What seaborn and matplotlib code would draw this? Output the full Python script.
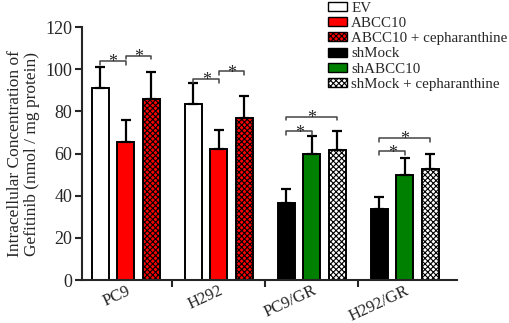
import numpy as np
import pandas as pd
import matplotlib
matplotlib.use("Agg")
import matplotlib.pyplot as plt
import matplotlib.transforms as mtransforms
from matplotlib.patches import Patch
import seaborn as sns

# data
groups = ["PC9", "H292", "PC9/GR", "H292/GR"]
means = [[91, 65.5, 86],
         [83.5, 62, 77],
         [36.5, 60, 61.5],
         [33.5, 50, 52.5]]
errs = [[10, 10.5, 12.5],
        [10, 9, 10.5],
        [6.5, 8.5, 9],
        [6, 8, 7.5]]
# significance brackets: (group, bar a, bar b, height)
brackets = [(0, 0, 1, 104), (0, 1, 2, 106.5),
            (1, 0, 1, 95.5), (1, 1, 2, 99),
            (2, 0, 1, 70.5), (2, 0, 2, 77.5),
            (3, 0, 1, 61), (3, 0, 2, 67.5)]
legend_labels = ["EV", "ABCC10", "ABCC10 + cepharanthine",
                 "shMock", "shABCC10", "shMock + cepharanthine"]

red = "#ff0000"
green = "#008000"
# face colour / hatch for every bar: [group][slot]
styles = [[("white", ""), (red, ""), (red, "xxxxxx")],
          [("white", ""), (red, ""), (red, "xxxxxx")],
          [("black", ""), (green, ""), ("white", "xxxxxx")],
          [("black", ""), (green, ""), ("white", "xxxxxx")]]

rows = []
for g, name in enumerate(groups):
    for s in range(3):
        rows.append({"group": name, "slot": s, "value": means[g][s]})
df = pd.DataFrame(rows)

sns.set_style("ticks")
plt.rcParams["font.family"] = ["Liberation Serif", "DejaVu Serif"]
plt.rcParams["hatch.linewidth"] = 0.8

fig = plt.figure(figsize=(5.1, 3.23), dpi=100)
ax = fig.add_axes([0.161, 0.133, 0.735, 0.783])

sns.barplot(data=df, x="group", y="value", hue="slot", order=groups,
            width=0.82, gap=0.33, errorbar=None, legend=False,
            palette=["white", "red", "red"], ax=ax)

# restyle bars and collect centres
bar_sets = list(ax.containers)
centres = np.zeros((4, 3))
for s, cont in enumerate(bar_sets):
    for g, bar in enumerate(cont.patches):
        fc, hatch = styles[g][s]
        bar.set_facecolor(fc)
        bar.set_edgecolor("black")
        bar.set_linewidth(1.4)
        bar.set_hatch(hatch)
        centres[g, s] = bar.get_x() + bar.get_width() / 2
        ax.errorbar(centres[g, s], means[g][s], yerr=[[0], [errs[g][s]]],
                    color="black", lw=1.6, capsize=3.3, capthick=1.6, zorder=1)

for g, a, b, h in brackets:
    x1, x2 = centres[g, a], centres[g, b]
    ax.plot([x1, x1, x2, x2], [h - 1.8, h, h, h - 1.8], color="#444444", lw=1.1)
    ax.annotate("*", ((x1 + x2) / 2, h), xytext=(0, -4.5),
                textcoords="offset points", ha="center", va="baseline",
                fontsize=13)

ax.set_xlim(-0.47, 3.56)
ax.set_ylim(0, 120)
ax.set_yticks(range(0, 121, 20))
ax.set_xticks(range(4))
ax.set_xticklabels(groups, rotation=25, ha="right", va="top",
                   rotation_mode="anchor", fontsize=12)
shift = mtransforms.ScaledTranslation(0.03, 0.015, fig.dpi_scale_trans)
for lab in ax.get_xticklabels():
    lab.set_transform(lab.get_transform() + shift)
ax.set_xticks([0.5, 1.5, 2.5], minor=True)
ax.tick_params(axis="x", which="major", length=0, pad=2)
ax.tick_params(axis="x", which="minor", length=5, width=1.5)
ax.tick_params(axis="y", length=5, width=1.5, labelsize=13, pad=2)
ax.set_xlabel("")
ax.set_ylabel("Intracellular Concentration of\nGefitinib (nmol / mg protein)",
              fontsize=12.5, labelpad=4, linespacing=1.05)
for side in ["left", "bottom"]:
    ax.spines[side].set_linewidth(1.5)
sns.despine(ax=ax)

handles = []
for g, s in [(0, 0), (0, 1), (0, 2), (2, 0), (2, 1), (2, 2)]:
    fc, hatch = styles[g][s]
    handles.append(Patch(facecolor=fc, edgecolor="black", hatch=hatch, lw=1))
fig.legend(handles, legend_labels, loc="upper left",
           bbox_to_anchor=(0.643, 0.995), frameon=False, fontsize=10.8,
           handlelength=1.3, handleheight=0.55, handletextpad=0.25,
           labelspacing=0.15, borderpad=0, borderaxespad=0)

fig.savefig("out.png", dpi=100)
